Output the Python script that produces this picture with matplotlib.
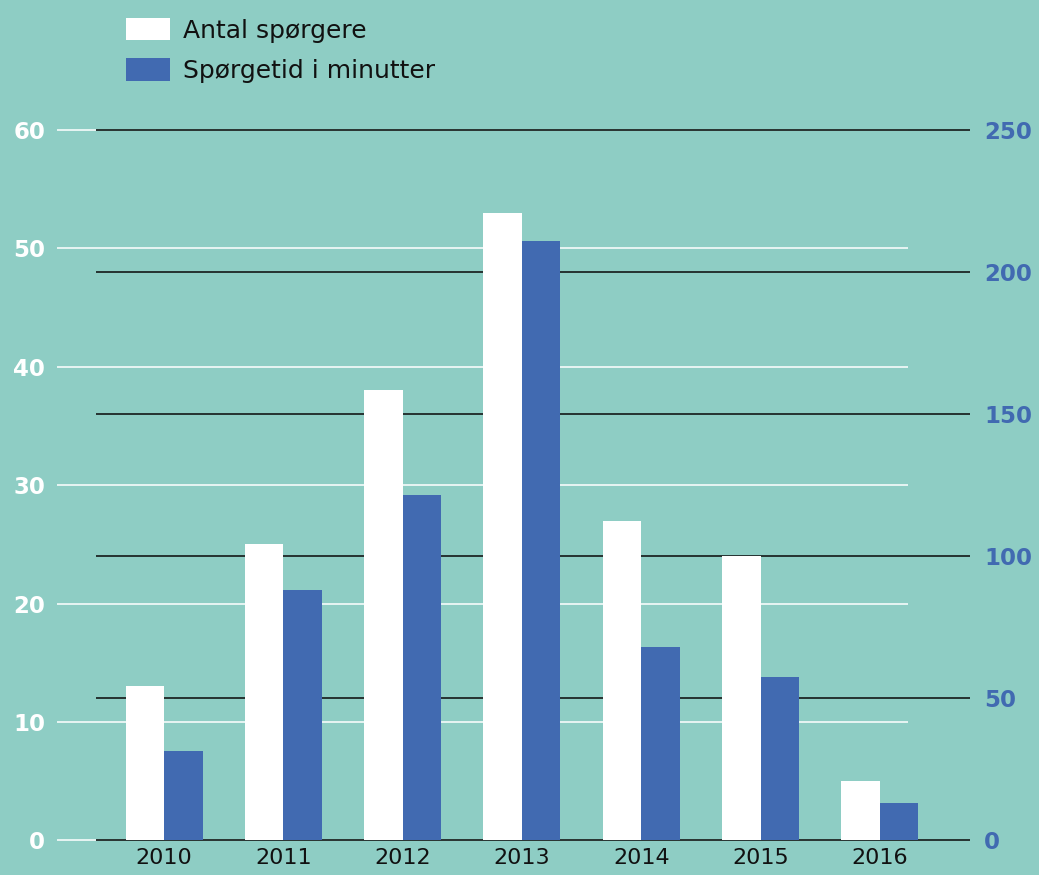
import matplotlib
matplotlib.use("Agg")
import matplotlib.pyplot as plt
import numpy as np
from matplotlib.transforms import blended_transform_factory

# ---- data ----
years = ["2010", "2011", "2012", "2013", "2014", "2015", "2016"]
antal_spoergere = [13, 25, 38, 53, 27, 24, 5]
spoergetid_min = [31.5, 88, 121.5, 211, 68, 57.3, 13]
left_ticks = [0, 10, 20, 30, 40, 50, 60]
right_ticks = [0, 50, 100, 150, 200, 250]
legend_labels = ["Antal spørgere", "Spørgetid i minutter"]

BG = "#8ECDC4"
BLUE = "#416AB1"
WHITE = "#FFFFFF"
DARK = "#263230"

plt.rcParams['font.family'] = ['DejaVu Sans']

W, H = 1039, 875
fig = plt.figure(figsize=(W / 100, H / 100), dpi=100, facecolor=BG)

# axes spans pixel x 57..970, y 130..840 (from top)
ax = fig.add_axes([57 / W, (H - 840.3) / H, 913 / W, 710.3 / H])
ax.set_facecolor("none")
ax2 = ax.twinx()
ax2.set_facecolor("none")

ax.set_ylim(0, 60)
ax2.set_ylim(0, 250)

group_px = 119.33
x = np.arange(len(years))
ax.set_xlim((57 - 164) / group_px, (970 - 164) / group_px)
ax2.set_xlim(ax.get_xlim())
bw = 38.5 / group_px

# gridlines: white for left scale, dark for right scale (all behind bars)
tw = blended_transform_factory(ax.transAxes, ax.transData)
ax.hlines(left_ticks, 0, 851 / 913, colors=WHITE, lw=1.1, transform=tw,
          zorder=1, clip_on=False)
tb = blended_transform_factory(ax.transAxes, ax2.transData)
ax.hlines(right_ticks, 39 / 913, 1.0, colors=DARK, lw=1.4, transform=tb,
          zorder=1.5, clip_on=False)

ax.bar(x - bw, antal_spoergere, width=bw, align='edge', color=WHITE,
       zorder=3, label=legend_labels[0], linewidth=0)
ax2.bar(x, spoergetid_min, width=bw, align='edge', color=BLUE,
        zorder=3, label=legend_labels[1], linewidth=0)

for a in (ax, ax2):
    for s in a.spines.values():
        s.set_visible(False)

ax.set_yticks(left_ticks)
ax.set_yticklabels([str(v) for v in left_ticks])
ax.tick_params(axis='y', length=0, pad=8.5, labelsize=16.5, labelcolor=WHITE)
for t in ax.get_yticklabels():
    t.set_fontweight('bold')

ax2.set_yticks(right_ticks)
ax2.set_yticklabels([str(v) for v in right_ticks])
ax2.tick_params(axis='y', length=0, pad=10, labelsize=16.5, labelcolor=BLUE)
for t in ax2.get_yticklabels():
    t.set_fontweight('bold')

ax.set_xticks(x)
ax.set_xticklabels(years)
ax.tick_params(axis='x', length=0, pad=5.5, labelsize=16, labelcolor="#111111")
ax2.tick_params(axis='x', length=0, labelbottom=False)

h1, l1 = ax.get_legend_handles_labels()
h2, l2 = ax2.get_legend_handles_labels()
leg = fig.legend(h1 + h2, l1 + l2, loc='upper left',
                 bbox_to_anchor=(126 / W, 1 - 18 / H), frameon=False,
                 fontsize=18, handlelength=1.76, handleheight=1.0,
                 handletextpad=0.52, labelspacing=0.62, borderpad=0,
                 borderaxespad=0)
for t in leg.get_texts():
    t.set_color("#111111")

fig.savefig("out.png", dpi=100, facecolor=BG)
